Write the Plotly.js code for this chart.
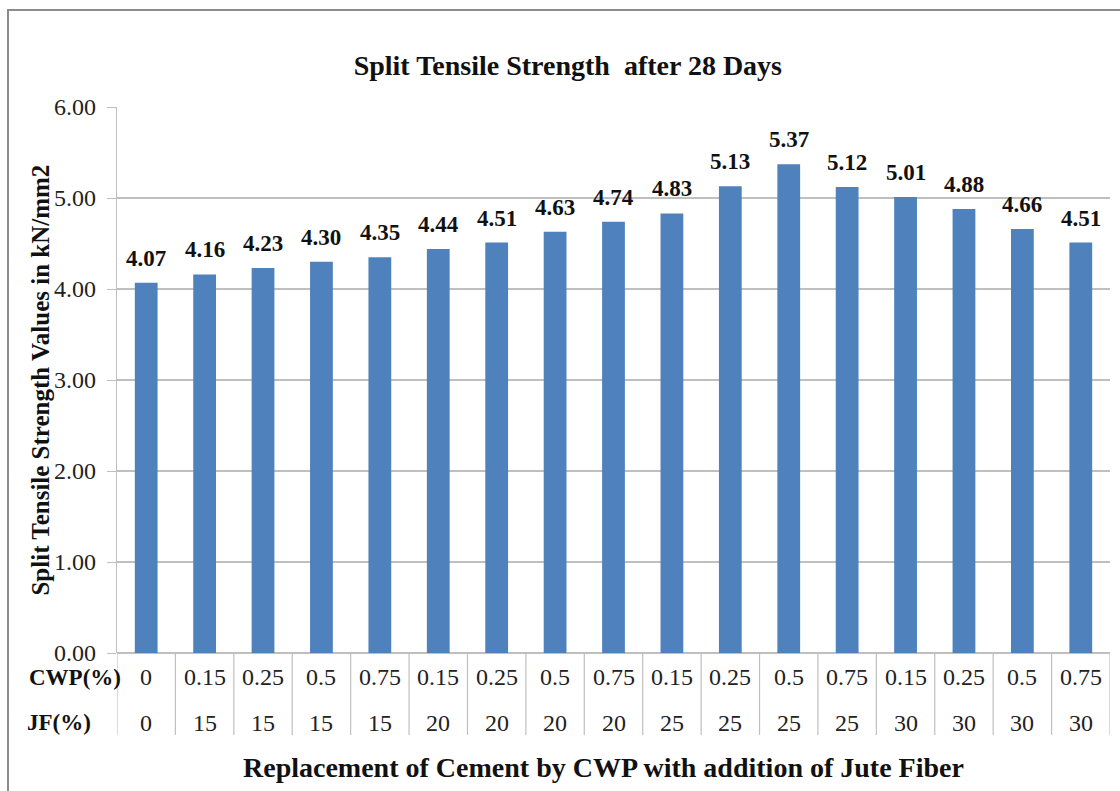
<!DOCTYPE html>
<html>
<head>
<meta charset="utf-8">
<script src="https://cdn.plot.ly/plotly-3.0.1.min.js"></script>
<style>
  html, body { margin: 0; padding: 0; background: #fff; }
  #wrap { position: relative; width: 1120px; height: 791px; }
  #frame { position: absolute; left: 7px; top: 9px; width: 1120px; height: 800px;
           border-left: 2px solid #8c8c8c; border-top: 2px solid #8c8c8c; pointer-events: none; }
  #chart { position: absolute; left: 0; top: 0; width: 1120px; height: 791px; }
</style>
</head>
<body>
<div id="wrap">
  <div id="chart"></div>
  <div id="frame"></div>
</div>
<script>
const cwpLabels = ["0", "0.15", "0.25", "0.5", "0.75", "0.15", "0.25", "0.5", "0.75", "0.15", "0.25", "0.5", "0.75", "0.15", "0.25", "0.5", "0.75"];
const jfLabels  = ["0", "15", "15", "15", "15", "20", "20", "20", "20", "25", "25", "25", "25", "30", "30", "30", "30"];
const strength  = [4.07, 4.16, 4.23, 4.30, 4.35, 4.44, 4.51, 4.63, 4.74, 4.83, 5.13, 5.37, 5.12, 5.01, 4.88, 4.66, 4.51];
const yTicks    = [0, 1, 2, 3, 4, 5, 6];

const serif = "Liberation Serif";
const idx = strength.map((_, i) => i);

const trace = {
  type: "bar",
  x: idx,
  y: strength,
  width: 0.39,
  marker: { color: "#4f81bd" },
  hoverinfo: "skip"
};

const annotations = [];
const shapes = [];
const rowCwpY = -0.044, rowJfY = -0.128, tableBottom = -0.150;

idx.forEach(i => {
  annotations.push({ x: i, y: strength[i], xref: "x", yref: "y", text: "<b>" + strength[i].toFixed(2) + "</b>",
    showarrow: false, yshift: 10, xanchor: "center", yanchor: "bottom",
    font: { family: serif, size: 23, color: "#111" } });
  annotations.push({ x: i, y: rowCwpY, xref: "x", yref: "paper", text: cwpLabels[i], showarrow: false,
    font: { family: serif, size: 24, color: "#222" }, xanchor: "center", yanchor: "middle" });
  annotations.push({ x: i, y: rowJfY, xref: "x", yref: "paper", text: jfLabels[i], showarrow: false,
    font: { family: serif, size: 24, color: "#222" }, xanchor: "center", yanchor: "middle" });
});
for (let k = 0; k <= idx.length; k++) {
  shapes.push({ type: "line", xref: "x", yref: "paper", x0: k - 0.5, x1: k - 0.5, y0: 0, y1: tableBottom,
    line: { color: "#bfbfbf", width: 1.2 } });
}

annotations.push({ x: -0.042, y: rowCwpY, xref: "paper", yref: "paper", text: "<b>CWP(%)</b>", showarrow: false,
  font: { family: serif, size: 23, color: "#111" }, xanchor: "center", yanchor: "middle" });
annotations.push({ x: -0.093, y: rowJfY, xref: "paper", yref: "paper", text: "<b>JF(%)</b>", showarrow: false,
  font: { family: serif, size: 23, color: "#111" }, xanchor: "left", yanchor: "middle" });
annotations.push({ x: 0.49, y: -0.21, xref: "paper", yref: "paper", text: "<b>Replacement of Cement by CWP with addition of Jute Fiber</b>", showarrow: false,
  font: { family: serif, size: 28, color: "#111" }, xanchor: "center", yanchor: "middle" });
annotations.push({ x: -0.078, y: 0.5, xref: "paper", yref: "paper", text: "<b>Split Tensile Strength Values in kN/mm2</b>", showarrow: false,
  textangle: -90, font: { family: serif, size: 25, color: "#111" }, xanchor: "center", yanchor: "middle" });

const layout = {
  width: 1120,
  height: 791,
  margin: { l: 117, r: 10, t: 107, b: 138 },
  paper_bgcolor: "#fff",
  plot_bgcolor: "#fff",
  showlegend: false,
  title: {
    text: "<b>Split Tensile Strength  after 28 Days</b>",
    x: 0.507, xref: "container", xanchor: "center",
    y: 0.918, yref: "container", yanchor: "middle",
    font: { family: serif, size: 28, color: "#111" }
  },
  xaxis: {
    range: [-0.5, idx.length - 0.5],
    showticklabels: false,
    ticks: "",
    showgrid: false,
    zeroline: false,
    showline: false,
    fixedrange: true
  },
  yaxis: {
    range: [0, 6],
    tickvals: yTicks,
    ticktext: yTicks.map(v => v.toFixed(2)),
    ticks: "outside",
    ticklen: 9,
    ticklabelstandoff: 6,
    tickcolor: "#bfbfbf",
    tickfont: { family: serif, size: 24, color: "#222" },
    showgrid: true,
    gridcolor: "#bfbfbf",
    gridwidth: 1.2,
    zeroline: true,
    zerolinecolor: "#bfbfbf",
    zerolinewidth: 1.2,
    showline: true,
    linecolor: "#bfbfbf",
    linewidth: 1.2,
    fixedrange: true
  },
  annotations: annotations,
  shapes: shapes
};

Plotly.newPlot("chart", [trace], layout, { displayModeBar: false, staticPlot: true });
</script>
</body>
</html>
